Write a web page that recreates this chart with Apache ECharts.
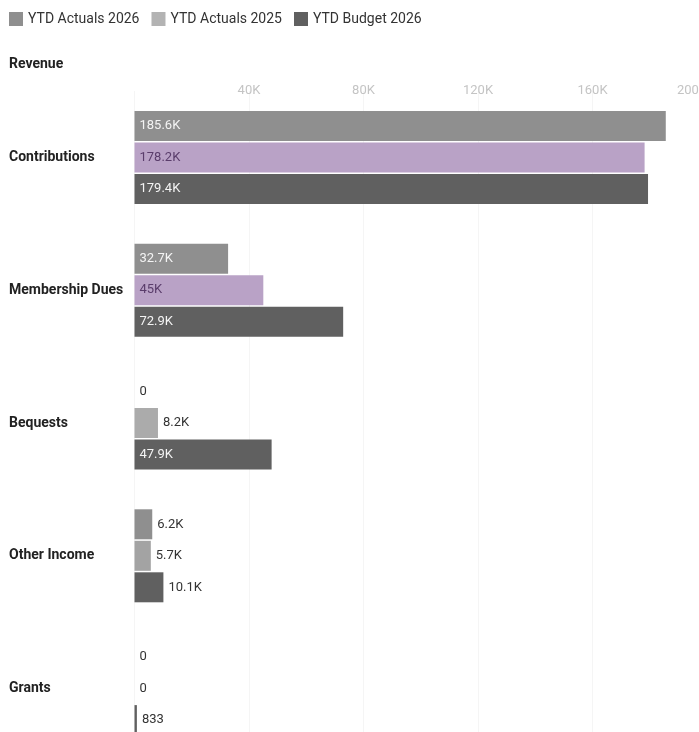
<!DOCTYPE html>
<html>
<head>
<meta charset="utf-8">
<style>
html,body{margin:0;padding:0;background:#fff;overflow:hidden;width:699px;height:732px;}
#chart{width:740px;height:770px;}
</style>
<script src="https://cdn.jsdelivr.net/npm/echarts@6/dist/echarts.min.js"></script>
</head>
<body>
<div id="chart"></div>
<script>
// ---- data ----
var categories = ['Contributions', 'Membership Dues', 'Bequests', 'Other Income', 'Grants'];
var seriesNames = ['YTD Actuals 2026', 'YTD Actuals 2025', 'YTD Budget 2026'];
var actuals2026 = [185600, 32700, 0, 6200, 0];
var actuals2025 = [178200, 45000, 8200, 5700, 0];
var budget2026 = [179400, 72900, 47900, 10100, 833];
var xTicks = [0, 40000, 80000, 120000, 160000, 200000];

// ---- styles ----
var colorA26 = '#8f8f8f';
var colorA25 = '#b3b3b3';
var colorB26 = '#606060';
var purple = '#b9a2c6';
var bar2025Colors = [purple, purple, '#ababab', '#a3a3a3', '#ababab'];
var label2025InsideColors = ['#5a3d6b', '#5a3d6b', '#fff', '#fff', '#fff'];

function fmt(v) {
  if (v >= 1000) {
    var k = Math.round(v / 100) / 10;
    return k + 'K';
  }
  return String(v);
}

function buildData(values, colors, insideColors) {
  return values.map(function (v, i) {
    var inside = v > 20000;
    return {
      value: v,
      itemStyle: colors ? { color: colors[i] } : undefined,
      label: {
        position: inside ? 'insideLeft' : 'right',
        distance: 5,
        color: inside ? (insideColors ? insideColors[i] : '#f4f4f4') : '#333333'
      }
    };
  });
}

var chart = echarts.init(document.getElementById('chart'), null, { renderer: 'canvas' });
var fontFamily = 'Roboto, "Noto Sans", sans-serif';
var labelCommon = {
  show: true,
  fontFamily: fontFamily,
  fontSize: 13,
  formatter: function (p) { return fmt(p.value); }
};

chart.setOption({
  animation: false,
  textStyle: { fontFamily: fontFamily },
  title: {
    text: 'Revenue',
    left: 4,
    top: 52,
    textStyle: { fontSize: 14, fontWeight: 'bold', color: '#222', fontFamily: fontFamily }
  },
  legend: {
    data: seriesNames,
    left: 4,
    top: 7,
    itemWidth: 14,
    itemHeight: 14,
    itemGap: 12,
    icon: 'rect',
    textStyle: { fontSize: 14, color: '#333', fontFamily: fontFamily }
  },
  grid: { left: 134.5, top: 91, right: 33, bottom: 15, containLabel: false },
  xAxis: {
    type: 'value',
    position: 'top',
    min: xTicks[0],
    max: xTicks[xTicks.length - 1],
    interval: xTicks[1] - xTicks[0],
    axisLine: { show: false },
    axisTick: { show: false },
    splitLine: { show: true, lineStyle: { color: '#f5f5f5', width: 1 } },
    axisLabel: {
      showMinLabel: false,
      alignMaxLabel: 'right',
      margin: 0,
      verticalAlign: 'middle',
      color: '#c4c4c4',
      fontSize: 13,
      fontFamily: fontFamily,
      formatter: function (v) { return fmt(v); }
    }
  },
  yAxis: {
    type: 'category',
    inverse: true,
    data: categories,
    axisLine: { show: false },
    axisTick: { show: false },
    axisLabel: {
      align: 'left',
      margin: 125.5,
      fontSize: 14,
      fontWeight: 'bold',
      color: '#222',
      fontFamily: fontFamily
    }
  },
  series: [
    {
      name: seriesNames[0],
      type: 'bar',
      barWidth: 30,
      barGap: '5%',
      itemStyle: { color: colorA26 },
      label: labelCommon,
      data: buildData(actuals2026, null, null)
    },
    {
      name: seriesNames[1],
      type: 'bar',
      barWidth: 30,
      barGap: '5%',
      itemStyle: { color: colorA25 },
      label: labelCommon,
      data: buildData(actuals2025, bar2025Colors, label2025InsideColors)
    },
    {
      name: seriesNames[2],
      type: 'bar',
      barWidth: 30,
      barGap: '5%',
      itemStyle: { color: colorB26 },
      label: labelCommon,
      data: buildData(budget2026, null, null)
    }
  ]
});
</script>
</body>
</html>
